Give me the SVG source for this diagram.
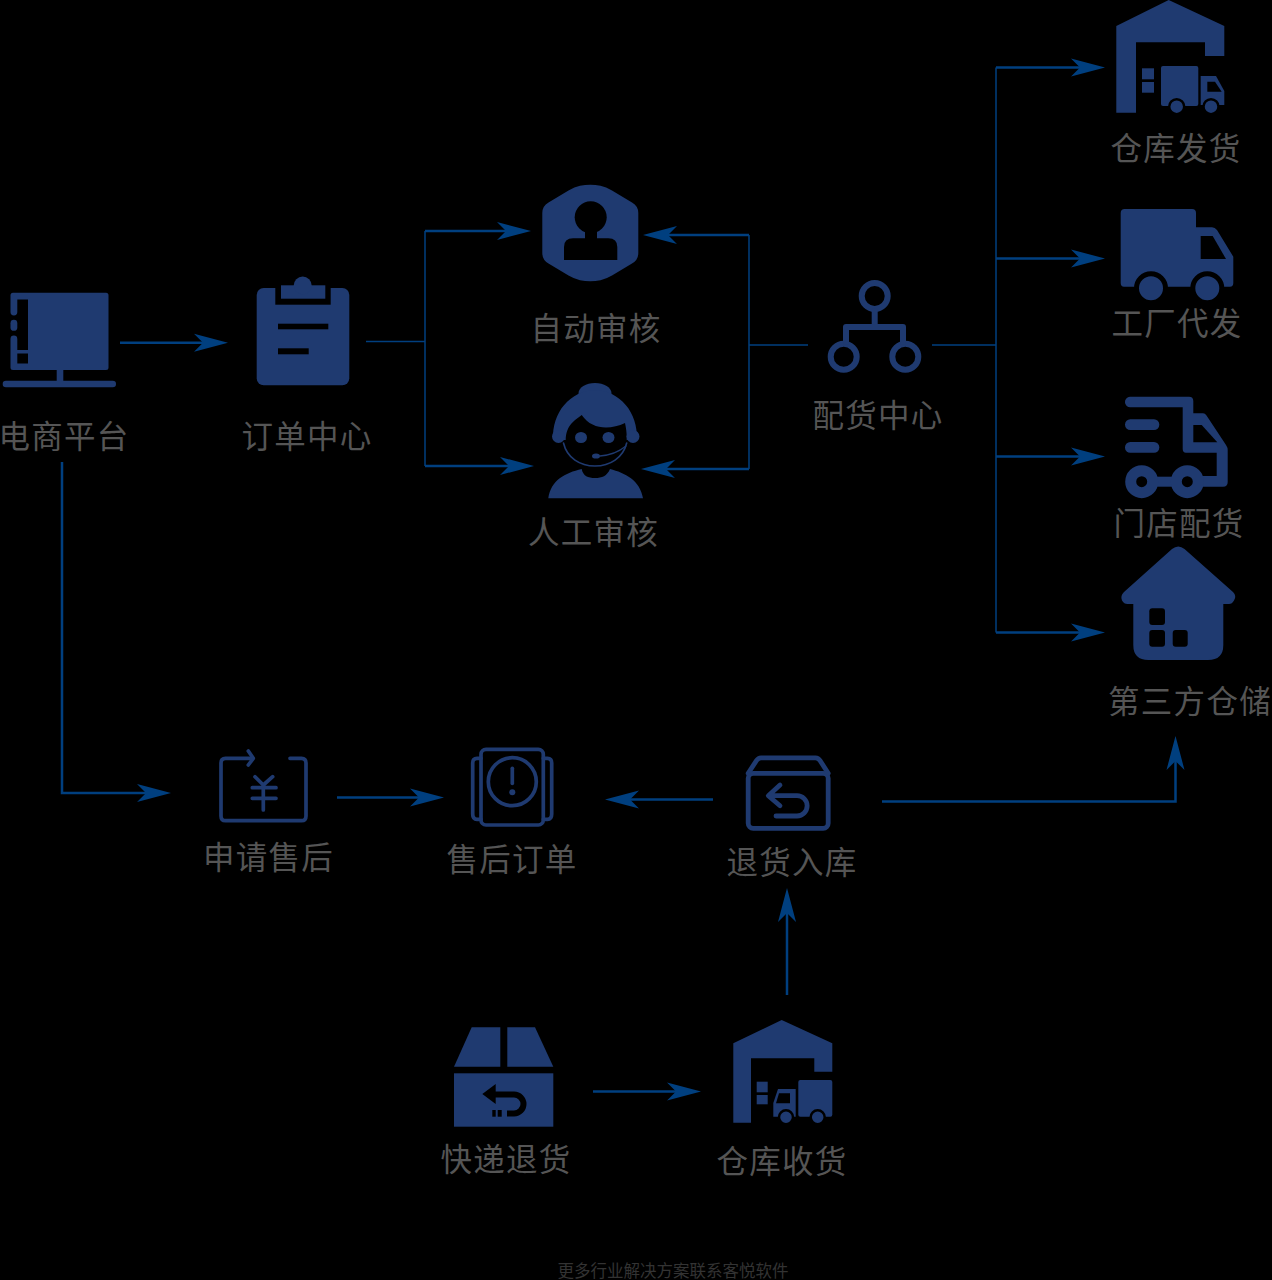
<svg xmlns="http://www.w3.org/2000/svg" width="1272" height="1280" viewBox="0 0 1272 1280">
<style>
.i{fill:#1f3a70}
.k{fill:#000}
.ks{fill:none;stroke:#000;stroke-linecap:round;stroke-linejoin:round}
.s{fill:none;stroke:#1f3a70;stroke-linecap:round;stroke-linejoin:round}
.t{font-family:"Noto Sans CJK SC","Liberation Sans",sans-serif;font-size:31.500px;letter-spacing:1.300px;font-weight:400;fill:#555;text-anchor:middle}
.c{fill:none;stroke:#003f7f;stroke-width:2.500}
.a{marker-end:url(#ar)}
.n{stroke-width:1.500}
</style>
<defs>
<marker id="ar" viewBox="0 0 34 20" refX="14" refY="10" markerWidth="34" markerHeight="20" markerUnits="userSpaceOnUse" orient="auto">
<path d="M0,1 L34,10 L0,19 L9,10Z" fill="#003f7f"/>
</marker>
</defs>
<rect width="1272" height="1280" fill="#000"/>
<g id="connectors">
<path class="c a" d="M120,342.700H208"/>
<path class="c n" d="M366,341.500H425"/>
<path class="c n" d="M425,231V466"/>
<path class="c a" d="M425,231H511"/>
<path class="c a" d="M425,466H514"/>
<path class="c n" d="M749,235V469"/>
<path class="c a" d="M749,235H663"/>
<path class="c a" d="M749,469H661"/>
<path class="c n" d="M749,345H808"/>
<path class="c n" d="M932,345H996"/>
<path class="c n" d="M996,67.500V632.500"/>
<path class="c a" d="M996,67.500H1085"/>
<path class="c a" d="M996,258.500H1085"/>
<path class="c a" d="M996,456.500H1085"/>
<path class="c a" d="M996,632.500H1085"/>
<path class="c a" d="M62,462V793H151"/>
<path class="c a" d="M337,797.500H424"/>
<path class="c a" d="M713,799.500H625"/>
<path class="c a" d="M882,801.500H1175.500V756"/>
<path class="c a" d="M787,995V908"/>
<path class="c a" d="M593,1091.500H681"/>
</g>
<g id="n-dianshang">
<path class="i" d="M13,292.700H106a2.500,2.500 0 0 1 2.500,2.500V367.500a2.500,2.500 0 0 1-2.500,2.500H13a2.500,2.500 0 0 1-2.500-2.500V339a3.300,3.300 0 0 1 6.800,0V350H28V299.500H17.300V312a3.400,3.400 0 0 1-6.800,0V295.200a2.500,2.500 0 0 1 2.500-2.500Z"/>
<rect class="k" x="17.300" y="353.500" width="10.700" height="10"/>
<rect class="i" x="10.500" y="319.800" width="6.800" height="11" rx="3.400"/>
<rect class="i" x="56.700" y="370" width="6.600" height="12"/>
<rect class="i" x="2.700" y="380.700" width="113.300" height="6.600" rx="3.300"/>
<text class="t" x="64" y="448">电商平台</text>
</g>
<g id="n-dingdan">
<rect class="i" x="256.700" y="288" width="92.600" height="97.300" rx="7"/>
<rect class="k" x="275.300" y="285" width="55.400" height="19.700"/>
<rect class="i" x="281" y="285.300" width="44.300" height="13.400"/>
<circle class="i" cx="302.700" cy="285.500" r="9"/>
<rect class="k" x="278" y="323.700" width="50.300" height="5.600"/>
<rect class="k" x="278" y="348.300" width="30.700" height="6"/>
<text class="t" x="307" y="448">订单中心</text>
</g>
<g id="n-zidong">
<path class="i" d="M580,185.800Q590.300,183.500 600.500,185.800Q606,187 612,190.500L632,202.500Q638.300,206 638.300,213V253Q638.300,260 632,263.500L612,275.500Q606,279 600.500,280.200Q590.300,282.500 580,280.200Q574.500,279 568.500,275.500L548.500,263.500Q542.300,260 542.300,253V213Q542.300,206 548.500,202.500L568.500,190.500Q574.500,187 580,185.800Z"/>
<circle class="k" cx="590.700" cy="217.300" r="16"/>
<rect class="k" x="585" y="228" width="12" height="14"/>
<path class="k" d="M564,260V247Q564,238.300 573,238.300H608.300Q617.300,238.300 617.300,247V260Z"/>
<text class="t" x="596" y="340">自动审核</text>
</g>
<g id="n-rengong">
<ellipse class="i" cx="595" cy="393.500" rx="16.500" ry="10.500"/>
<path class="i" d="M553,440C552,412 570,391 595,390C620,391 638,412 637,440L626.700,440C627,433 626,428 625,423C610,430 592,430 581.700,415C575,420 566,425 565.700,440Z"/>
<circle class="i" cx="558.500" cy="436.500" r="6.500"/>
<circle class="i" cx="633" cy="436.500" r="6.500"/>
<ellipse class="i" cx="581" cy="437.500" rx="6" ry="5.500"/>
<ellipse class="i" cx="608.500" cy="437.500" rx="6" ry="5.500"/>
<path class="s" stroke-width="1.600" d="M563.500,443C567,458 580,466 595,466C610,466 623,458 626.700,443"/>
<ellipse class="i" cx="596" cy="456" rx="4" ry="2.600"/>
<path class="s" stroke-width="1.300" d="M600,456Q615,455 626,446"/>
<path class="i" d="M548.300,498.300C551,480 565,473 581.700,469C583,476 588,478 595,478C602,478 607,476 610,469C625,473 640,480 643,498.300Z"/>
<text class="t" x="593.500" y="544">人工审核</text>
</g>
<g id="n-peihuo">
<g class="s" stroke-width="6">
<circle cx="874.700" cy="296" r="13"/>
<circle cx="843.700" cy="356.700" r="13"/>
<circle cx="905.300" cy="356.700" r="13"/>
<path d="M874.700,311V327M846,342V327H903V342"/>
</g>
<text class="t" x="878" y="427">配货中心</text>
</g>
<g id="n-cangkufahuo">
<path class="i" d="M1168.700,0L1224.300,26V56H1205V42.300H1136V112.700H1116.300V26Z"/>
<rect class="i" x="1142" y="68.300" width="12" height="11"/>
<rect class="i" x="1142" y="82" width="12" height="10.700"/>
<rect class="i" x="1161" y="66" width="37.300" height="40" rx="2"/>
<path class="i" d="M1200.700,76H1216L1224.300,91V105H1200.700Z"/>
<path class="k" d="M1207.300,81.700H1215L1221.700,91.700H1207.300Z"/>
<circle class="i" cx="1176.700" cy="106.700" r="7.500" stroke="#000" stroke-width="2.500"/>
<circle class="i" cx="1211" cy="106.700" r="7.500" stroke="#000" stroke-width="2.500"/>
<text class="t" x="1176" y="160">仓库发货</text>
</g>
<g id="n-gongchang">
<path class="i" d="M1124.700,209H1192Q1196,209 1196,213V227.300H1212Q1215,227.300 1217,230L1233.300,256.700V283Q1233.300,286.700 1230,286.700H1124Q1120.700,286.700 1120.700,283V213Q1120.700,209 1124.700,209Z"/>
<path class="k" d="M1200.700,236H1212.700L1226,259H1200.700Z"/>
<circle class="i" cx="1151" cy="288.300" r="14.500" stroke="#000" stroke-width="5"/>
<circle class="i" cx="1207.300" cy="288.300" r="14.500" stroke="#000" stroke-width="5"/>
<text class="t" x="1177" y="335">工厂代发</text>
</g>
<g id="n-mendian">
<path class="i" d="M1130,396.700H1189Q1193.300,396.700 1193.300,401V413.300H1203Q1205,413.300 1206.500,415.500L1226,445Q1227.700,447.500 1227.700,450V482Q1227.700,486.700 1223,486.700H1200V476H1216.700V452.700H1186Q1182.700,452.700 1182.700,449V407.300H1130.500A5.300,5.300 0 0 1 1130,396.700Z"/>
<path class="k" d="M1193.300,425H1201.700L1217.300,442.300H1193.300Z"/>
<rect class="i" x="1125" y="419.300" width="34.300" height="10.700" rx="5.300"/>
<rect class="i" x="1125" y="442" width="34.300" height="10.700" rx="5.300"/>
<rect class="i" x="1150" y="476.700" width="28" height="10"/>
<circle class="s" cx="1141.700" cy="481.700" r="11" stroke-width="11"/>
<circle class="s" cx="1187.300" cy="481.700" r="11" stroke-width="11"/>
<text class="t" x="1179" y="535">门店配货</text>
</g>
<g id="n-disanfang">
<path class="i" d="M1172,549Q1178.300,544 1184.500,549L1233,592Q1237,596 1234,600.500Q1232,604 1229,604H1223.300V645Q1223.300,660 1208,660H1148.500Q1133.300,660 1133.300,645V604H1127.500Q1124,604 1122,600.500Q1120,596 1124,592Z"/>
<rect class="k" x="1149.300" y="608.300" width="15.700" height="16.700" rx="3"/>
<rect class="k" x="1149.300" y="630" width="15.700" height="16.700" rx="3"/>
<rect class="k" x="1172.700" y="630" width="15" height="16.700" rx="3"/>
<text class="t" x="1108" y="713" style="text-anchor:start">第三方仓储</text>
</g>
<g id="n-shenqing">
<g class="s" stroke-width="3.700">
<path d="M252,758.300H225.500Q221,758.300 221,763V816Q221,820.700 225.500,820.700H301.500Q306,820.700 306,816V763Q306,758.300 301.500,758.300H290"/>
<path d="M248.300,751L253.300,758.300L248.300,765"/>
<path d="M255,776.700L263.300,785L272.700,776.700M263.300,785V810M252.300,787.700H276M252.300,798.300H276"/>
</g>
<text class="t" x="268.500" y="869">申请售后</text>
</g>
<g id="n-shouhou">
<g class="s" stroke-width="3.700">
<rect x="481" y="749.300" width="62.300" height="75.700" rx="5"/>
<path d="M481,758.300H477Q472.700,758.300 472.700,763V814Q472.700,819.300 477,819.300H481"/>
<path d="M543.300,758.300H547.500Q551.700,758.300 551.700,763V814Q551.700,819.300 547.500,819.300H543.300"/>
<circle cx="512.300" cy="781.700" r="24"/>
<path d="M512.300,768.300V783.300"/>
</g>
<circle class="i" cx="512.300" cy="792.300" r="3"/>
<text class="t" x="512" y="871">售后订单</text>
</g>
<g id="n-tuihuo">
<g class="s" stroke-width="4.800">
<rect x="748.200" y="773.300" width="80" height="55" rx="5"/>
<path d="M748.200,773.300L756.500,760.500Q758.300,757.800 761,757.800H815.500Q818.300,757.800 820,760.500L828.200,773.300"/>
<path d="M780,785L768.300,795.700L780,805.700M770,795.700H797A10,10 0 0 1 797,816H776"/>
</g>
<text class="t" x="792" y="874">退货入库</text>
</g>
<g id="n-kuaidi">
<path class="i" d="M471.700,1027.300H500.300V1066.700H454Z"/>
<path class="i" d="M507.300,1027.300H535L553.300,1066.700H507.300Z"/>
<rect class="i" x="454" y="1073.300" width="99.300" height="53.400"/>
<path class="k" d="M495.700,1084V1104L482.300,1094Z"/>
<path class="ks" stroke-width="6" style="stroke-linecap:butt" d="M495,1094.500H514A9.500,9.500 0 0 1 514,1113.500H507"/>
<rect class="k" x="492.300" y="1110" width="3.400" height="6.700"/>
<rect class="k" x="497.700" y="1110" width="4" height="6.700"/>
<text class="t" x="506" y="1171">快递退货</text>
</g>
<g id="n-cangkushouhuo">
<path class="i" d="M781.700,1020L832.300,1043.300V1071.700H814.300V1058.300H751V1122.700H733.300V1043.300Z"/>
<rect class="i" x="756.700" y="1081.700" width="11" height="10.600"/>
<rect class="i" x="756.700" y="1095" width="11" height="9.300"/>
<rect class="i" x="798.300" y="1080" width="34" height="36.700" rx="2"/>
<path class="i" d="M778,1089H795.700V1116.700H773.300V1103Z"/>
<path class="k" d="M779,1093.300H790V1103.300H776Z"/>
<circle class="i" cx="786" cy="1117.300" r="7" stroke="#000" stroke-width="2.500"/>
<circle class="i" cx="817.700" cy="1117.300" r="7" stroke="#000" stroke-width="2.500"/>
<text class="t" x="782" y="1173">仓库收货</text>
</g>
<text x="673" y="1277" style="font-family:'Noto Sans CJK SC','Liberation Sans',sans-serif;font-size:16.500px;fill:#333;text-anchor:middle">更多行业解决方案联系客悦软件</text>
</svg>
